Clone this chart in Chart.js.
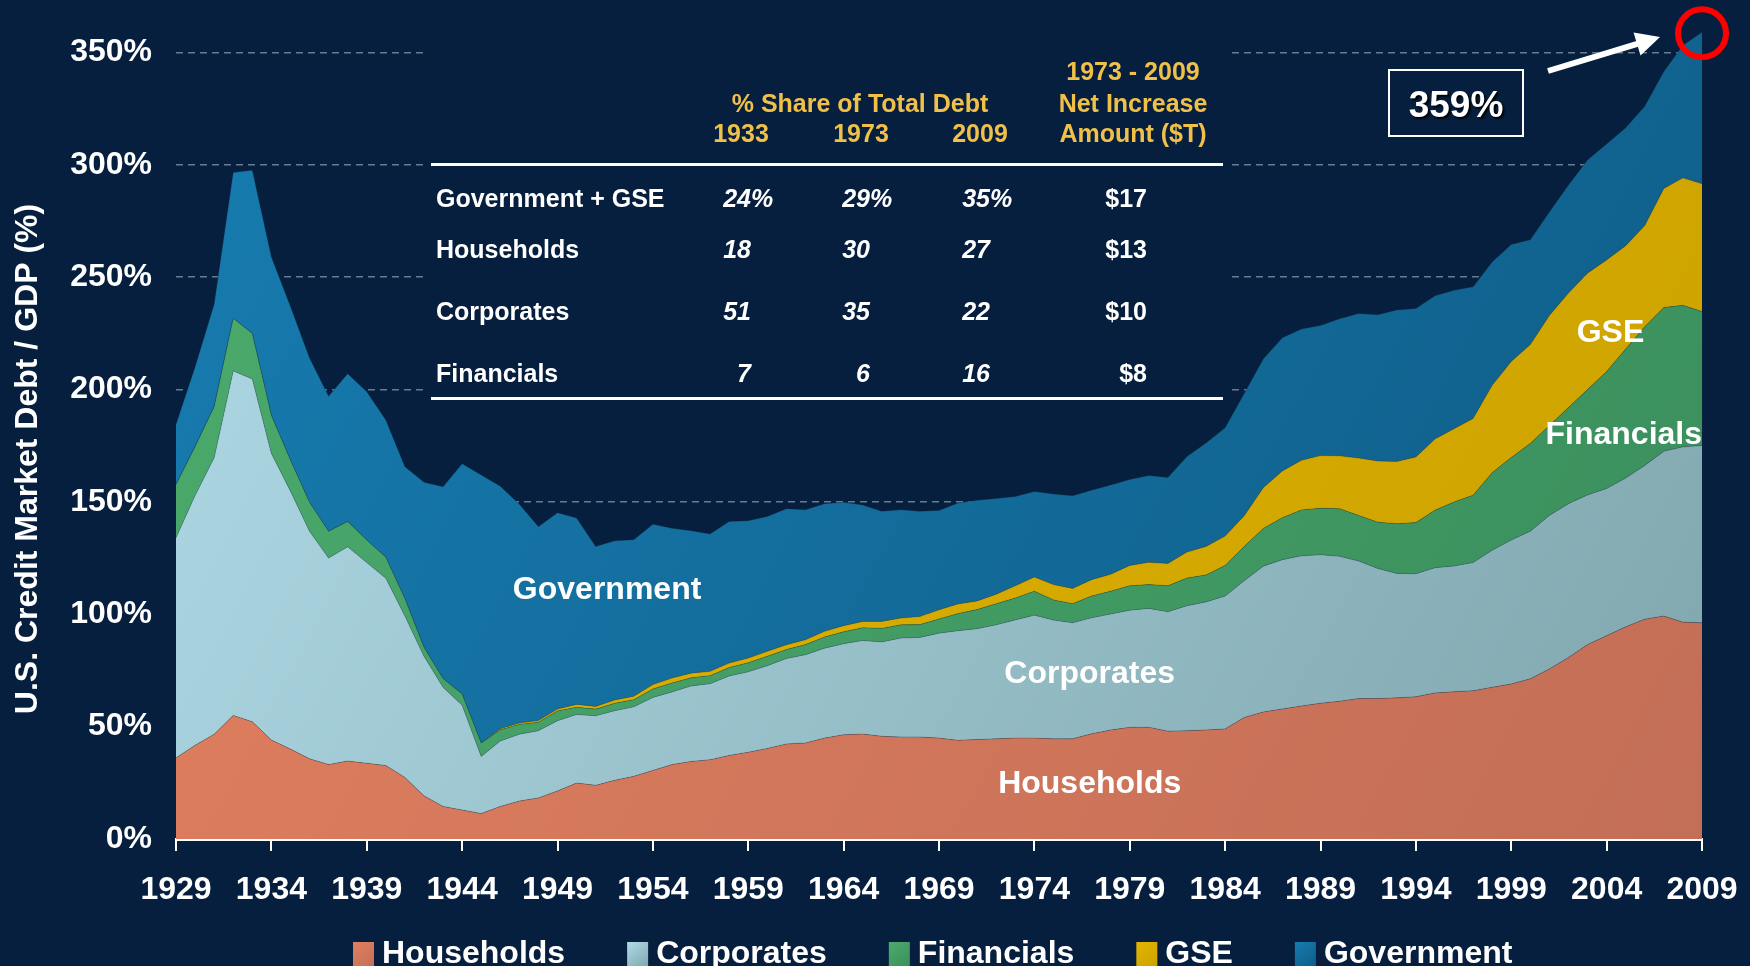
<!DOCTYPE html>
<html>
<head>
<meta charset="utf-8">
<title>U.S. Credit Market Debt / GDP</title>
<script src="https://cdn.jsdelivr.net/npm/chart.js@4.4.1/dist/chart.umd.min.js"></script>
<style>
  html, body { margin: 0; padding: 0; background: #061f3e; overflow: hidden; }
  #debtChart { display: block; }
</style>
</head>
<body>
<canvas id="debtChart" width="1750" height="966"></canvas>
<script>
const years = [1929, 1930, 1931, 1932, 1933, 1934, 1935, 1936, 1937, 1938, 1939, 1940, 1941, 1942, 1943, 1944, 1945, 1946, 1947, 1948, 1949,
  1950, 1951, 1952, 1953, 1954, 1955, 1956, 1957, 1958, 1959, 1960, 1961, 1962, 1963, 1964, 1965, 1966, 1967, 1968, 1969,
  1970, 1971, 1972, 1973, 1974, 1975, 1976, 1977, 1978, 1979, 1980, 1981, 1982, 1983, 1984, 1985, 1986, 1987, 1988, 1989,
  1990, 1991, 1992, 1993, 1994, 1995, 1996, 1997, 1998, 1999, 2000, 2001, 2002, 2003, 2004, 2005, 2006, 2007, 2008, 2009];

// % of GDP, each layer's own thickness (stacked)
const households = [36.1, 41.7, 46.6, 55.0, 52.2, 44.0, 40.0, 35.7, 33.1, 34.7, 33.7, 32.7, 27.4, 19.2, 14.5, 12.9, 11.3, 14.5, 16.9, 18.3, 21.4,
  24.9, 23.9, 26.1, 27.9, 30.5, 33.1, 34.5, 35.3, 37.2, 38.6, 40.3, 42.3, 42.7, 44.9, 46.4, 46.7, 45.7, 45.4, 45.4, 44.9,
  43.9, 44.3, 44.6, 44.9, 44.9, 44.6, 44.6, 46.8, 48.5, 49.7, 49.7, 48.0, 48.2, 48.5, 49.0, 54.1, 56.5, 57.9, 59.2, 60.4,
  61.3, 62.5, 62.5, 62.8, 63.3, 65.0, 65.5, 66.0, 67.5, 69.0, 71.3, 75.7, 80.8, 86.5, 90.5, 94.4, 97.8, 99.2, 96.5, 96.2];
const corporates = [97.9, 111.1, 123.0, 153.3, 152.5, 127.6, 114.8, 101.2, 91.9, 95.3, 89.3, 83.3, 71.8, 62.1, 53.0, 46.6, 25.4, 29.1, 29.7, 29.9, 31.2,
  30.5, 30.9, 31.0, 30.9, 32.5, 32.3, 33.6, 33.8, 35.3, 35.8, 36.8, 38.0, 39.3, 40.0, 40.5, 41.6, 42.0, 44.0, 44.3, 46.7,
  48.8, 49.3, 50.7, 52.6, 54.7, 52.8, 51.6, 51.6, 51.6, 52.1, 52.9, 53.1, 55.6, 57.0, 59.1, 60.8, 64.9, 66.4, 66.8, 66.1,
  64.5, 61.2, 57.9, 55.4, 54.7, 55.7, 56.0, 57.0, 61.0, 64.0, 65.7, 68.3, 68.4, 66.6, 65.5, 66.2, 68.4, 73.3, 78.0, 78.9];
const financials = [23.7, 21.8, 22.8, 23.4, 20.3, 16.9, 13.8, 12.9, 11.9, 11.3, 10.0, 9.4, 7.8, 4.0, 3.9, 5.0, 6.0, 5.0, 4.4, 3.8, 4.4,
  3.2, 3.0, 3.3, 3.2, 3.8, 4.0, 3.6, 3.6, 3.8, 4.0, 4.2, 4.0, 4.5, 5.0, 5.3, 5.7, 6.0, 5.9, 5.7, 6.3,
  7.6, 8.5, 9.4, 9.7, 10.7, 9.0, 8.5, 9.7, 10.2, 10.9, 10.6, 11.6, 12.3, 12.0, 13.6, 15.3, 16.8, 18.7, 20.4, 20.7,
  21.2, 20.3, 20.6, 22.1, 22.8, 25.6, 28.5, 30.0, 34.5, 36.8, 39.0, 40.0, 42.8, 46.9, 52.0, 57.4, 61.8, 64.0, 63.0, 59.6];
const gse = [0, 0, 0, 0, 0, 0, 0, 0, 0, 0, 0, 0, 0, 0, 0, 0, 0, 0.5, 0.6, 0.7, 0.8,
  1.3, 1.2, 1.5, 1.5, 1.9, 2.2, 2.1, 1.9, 2.0, 2.1, 2.2, 2.1, 2.2, 2.5, 2.7, 2.8, 3.1, 3.0, 3.6, 4.1,
  4.3, 3.8, 4.2, 5.5, 6.3, 6.8, 6.8, 7.3, 7.5, 9.0, 9.9, 9.9, 11.6, 12.7, 13.1, 13.6, 18.1, 20.8, 22.1, 23.4,
  23.5, 25.5, 27.2, 27.7, 29.2, 31.7, 32.6, 34.1, 38.9, 42.7, 44.0, 49.0, 51.0, 51.8, 49.7, 46.0, 45.0, 53.0, 56.7, 56.9];
const government = [26.8, 35.4, 45.6, 64.9, 72.6, 70.5, 68.4, 64.2, 60.1, 65.7, 66.0, 61.1, 58.7, 73.4, 85.3, 102.5, 119.3, 107.9, 97.4, 86.3, 87.4,
  82.9, 71.2, 70.8, 69.7, 71.4, 66.7, 63.4, 61.1, 63.0, 61.1, 60.0, 60.6, 57.8, 56.8, 54.9, 51.8, 49.0, 48.2, 46.8, 44.2,
  44.9, 44.8, 42.6, 39.7, 38.0, 40.3, 41.2, 39.8, 39.7, 38.3, 38.6, 38.3, 42.5, 46.0, 48.2, 54.5, 57.3, 59.2, 58.4, 57.9,
  61.0, 64.3, 65.1, 67.4, 66.1, 63.7, 61.6, 58.6, 54.9, 52.1, 46.7, 46.0, 48.0, 50.4, 51.6, 52.5, 53.1, 52.0, 59.0, 67.4];

// inset table
const tableRows = ['Government + GSE', 'Households', 'Corporates', 'Financials'];
const share1933 = ['24%', '18', '51', '7'];
const share1973 = ['29%', '30', '35', '6'];
const share2009 = ['35%', '27', '22', '16'];
const netIncrease = ['$17', '$13', '$10', '$8'];

const seriesNames = ['Households', 'Corporates', 'Financials', 'GSE', 'Government'];

const BG = '#061f3e';
const FONT = '"Liberation Sans", Arial, Helvetica, sans-serif';
const YELLOW = '#f0c048';

Chart.defaults.font.family = FONT;

const colors = {
  Households: ['#e2805f', '#c36e57'],
  Corporates: ['#afdae6', '#80a6ad'],
  Financials: ['#4cab6c', '#3a8e5c'],
  GSE: ['#e2b400', '#cca200'],
  Government: ['#177cb0', '#0f5c86']
};

function areaFill(name) {
  return (context) => {
    const chart = context.chart;
    const area = chart.chartArea;
    if (!area) return colors[name][0];
    const g = chart.ctx.createLinearGradient(area.left, area.top, area.right, area.bottom);
    g.addColorStop(0, colors[name][0]);
    g.addColorStop(1, colors[name][1]);
    return g;
  };
}

function boxFill(ctx, name, x, y, w, h) {
  const g = ctx.createLinearGradient(x, y, x + w, y + h);
  g.addColorStop(0, colors[name][0]);
  g.addColorStop(1, colors[name][1]);
  return g;
}

const areaLabels = [
  { text: 'Government', year: 1951.6, value: 110.6, align: 'center' },
  { text: 'Corporates', year: 1976.9, value: 73.4, align: 'center' },
  { text: 'Households', year: 1976.9, value: 24.2, align: 'center' },
  { text: 'GSE', year: 2004.2, value: 225.0, align: 'center' },
  { text: 'Financials', year: 2009, value: 179.6, align: 'right' }
];

const decor = {
  id: 'decor',
  beforeDraw(chart) {
    const ctx = chart.ctx;
    ctx.save();
    ctx.fillStyle = BG;
    ctx.fillRect(0, 0, chart.width, chart.height);
    ctx.restore();
  },
  beforeDatasetsDraw(chart) {
    // table panel hides the grid lines behind it
    const ctx = chart.ctx;
    ctx.save();
    ctx.fillStyle = BG;
    ctx.fillRect(427, 40, 801, 362);
    ctx.restore();
  },
  afterDraw(chart) {
    const ctx = chart.ctx;
    const xs = chart.scales.x;
    const ys = chart.scales.y;
    ctx.save();

    // labels on the areas
    ctx.fillStyle = '#ffffff';
    ctx.font = 'bold 32px ' + FONT;
    ctx.textBaseline = 'middle';
    areaLabels.forEach(l => {
      ctx.textAlign = l.align;
      ctx.fillText(l.text, xs.getPixelForValue(l.year - years[0]), ys.getPixelForValue(l.value));
    });

    // y axis title
    ctx.save();
    ctx.translate(28, 459);
    ctx.rotate(-Math.PI / 2);
    ctx.textAlign = 'center';
    ctx.fillText('U.S. Credit Market Debt / GDP (%)', 0, 0);
    ctx.restore();

    // table
    ctx.textBaseline = 'alphabetic';
    ctx.font = 'bold 25px ' + FONT;
    ctx.fillStyle = YELLOW;
    ctx.textAlign = 'center';
    ctx.fillText('1973 - 2009', 1133, 80);
    ctx.fillText('% Share of Total Debt', 860, 112);
    ctx.fillText('Net Increase', 1133, 112);
    ctx.fillText('1933', 741, 142);
    ctx.fillText('1973', 861, 142);
    ctx.fillText('2009', 980, 142);
    ctx.fillText('Amount ($T)', 1133, 142);

    ctx.fillStyle = '#ffffff';
    ctx.fillRect(431, 163, 792, 3);
    ctx.fillRect(431, 397, 792, 3);

    const rowY = [207, 258, 320, 382];
    const cols = [[share1933, 751], [share1973, 870], [share2009, 990]];
    tableRows.forEach((name, i) => {
      ctx.font = 'bold 25px ' + FONT;
      ctx.textAlign = 'left';
      ctx.fillText(name, 436, rowY[i]);
      ctx.font = 'italic bold 25px ' + FONT;
      cols.forEach(([arr, right]) => {
        const v = arr[i];
        const digits = v.replace('%', '');
        ctx.fillText(v, right - ctx.measureText(digits).width, rowY[i]);
      });
      ctx.font = 'bold 25px ' + FONT;
      ctx.textAlign = 'right';
      ctx.fillText(netIncrease[i], 1147, rowY[i]);
    });

    // 359% call-out
    const last = years.length - 1;
    const total = households[last] + corporates[last] + financials[last] + gse[last] + government[last];
    ctx.strokeStyle = '#ffffff';
    ctx.lineWidth = 2;
    ctx.strokeRect(1389, 70, 134, 66);
    ctx.save();
    ctx.shadowColor = 'rgba(0,0,0,0.9)';
    ctx.shadowOffsetX = 2;
    ctx.shadowOffsetY = 2;
    ctx.shadowBlur = 2;
    ctx.font = 'bold 37px ' + FONT;
    ctx.textAlign = 'center';
    ctx.fillText(Math.round(total) + '%', 1456, 117);
    ctx.restore();

    // arrow
    const ax0 = 1548, ay0 = 71, ax1 = 1660, ay1 = 37;
    const ang = Math.atan2(ay1 - ay0, ax1 - ax0);
    const headLen = 24, headW = 12;
    const bx = ax1 - headLen * Math.cos(ang), by = ay1 - headLen * Math.sin(ang);
    ctx.lineWidth = 6;
    ctx.lineCap = 'butt';
    ctx.beginPath();
    ctx.moveTo(ax0, ay0);
    ctx.lineTo(bx + 2 * Math.cos(ang), by + 2 * Math.sin(ang));
    ctx.stroke();
    ctx.beginPath();
    ctx.moveTo(ax1, ay1);
    ctx.lineTo(bx - headW * Math.sin(ang), by + headW * Math.cos(ang));
    ctx.lineTo(bx + headW * Math.sin(ang), by - headW * Math.cos(ang));
    ctx.closePath();
    ctx.fill();

    // red circle on the 2009 peak
    ctx.strokeStyle = '#ff0000';
    ctx.lineWidth = 6;
    ctx.beginPath();
    ctx.arc(xs.getPixelForValue(last), ys.getPixelForValue(total) + 1, 24, 0, Math.PI * 2);
    ctx.stroke();

    // legend
    ctx.font = 'bold 32px ' + FONT;
    ctx.textAlign = 'left';
    ctx.textBaseline = 'alphabetic';
    let lx = 353;
    seriesNames.forEach(name => {
      ctx.fillStyle = boxFill(ctx, name, lx, 942, 21, 26);
      ctx.fillRect(lx, 942, 21, 26);
      ctx.fillStyle = '#ffffff';
      ctx.fillText(name, lx + 29, 963);
      lx += 29 + ctx.measureText(name).width + 62;
    });

    ctx.restore();
  }
};

const layers = [households, corporates, financials, gse, government];

new Chart('debtChart', {
  type: 'line',
  data: {
    labels: years,
    datasets: layers.map((vals, i) => ({
      label: seriesNames[i],
      data: vals,
      fill: i === 0 ? 'origin' : '-1',
      backgroundColor: areaFill(seriesNames[i]),
      borderColor: 'rgba(10,40,60,0.25)',
      borderWidth: 1,
      pointRadius: 0,
      tension: 0
    }))
  },
  options: {
    responsive: false,
    animation: false,
    devicePixelRatio: 1,
    layout: { padding: { top: 30, right: 48, bottom: 67, left: 0 } },
    plugins: {
      legend: { display: false },
      tooltip: { enabled: false }
    },
    scales: {
      x: {
        type: 'category',
        offset: false,
        grid: { drawOnChartArea: false, drawTicks: true, tickLength: 12, color: '#ffffff', lineWidth: 2 },
        border: { display: true, color: '#ffffff', width: 3 },
        ticks: { color: '#ffffff', font: { size: 32, weight: 'bold' }, autoSkip: false, maxRotation: 0, padding: 20 },
        afterBuildTicks: (scale) => { scale.ticks = scale.ticks.filter(t => years[t.value] % 5 === 4); },
        afterFit: (scale) => { scale.height = 60; scale.paddingLeft = 0; scale.paddingRight = 0; }
      },
      y: {
        stacked: true,
        min: 0,
        max: 360,
        grid: {
          drawTicks: false,
          lineWidth: 1.5,
          color: (c) => (c.tick && c.tick.value === 0) ? 'rgba(0,0,0,0)' : 'rgba(140,152,170,0.75)'
        },
        border: { display: false, dash: [7, 5] },
        ticks: { stepSize: 50, includeBounds: false, color: '#ffffff', font: { size: 32, weight: 'bold' }, padding: 24, callback: (v) => v + '%' },
        afterBuildTicks: (scale) => { scale.ticks = scale.ticks.filter(t => t.value % 50 === 0); },
        afterFit: (scale) => { scale.width = 176; scale.paddingTop = 0; scale.paddingBottom = 0; }
      }
    }
  },
  plugins: [decor]
});
</script>
</body>
</html>
